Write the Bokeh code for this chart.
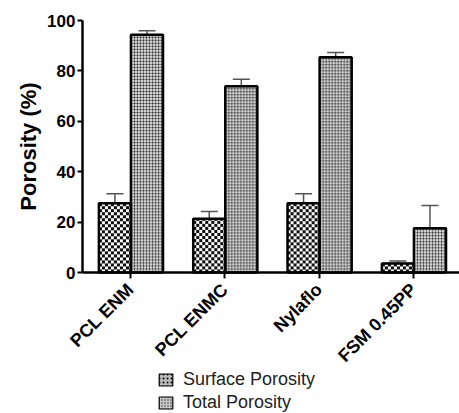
import math
import numpy as np
from bokeh.plotting import figure
from bokeh.models import (ColumnDataSource, Whisker, TeeHead, Legend, LegendItem,
                          FixedTicker, Range1d, Label)
from bokeh.transform import dodge
from bokeh.embed import file_html
from bokeh.resources import INLINE

categories = ["PCL ENM", "PCL ENMC", "Nylaflo", "FSM 0.45PP"]
surface = [27.5, 21.3, 27.5, 3.6]
surface_err = [3.8, 2.9, 3.8, 1.0]
total = [94.3, 73.9, 85.4, 17.6]
total_err = [1.6, 2.8, 1.9, 9.0]
y_ticks = [0, 20, 40, 60, 80, 100]

FONT = "Liberation Sans"
S_OFF, T_OFF, BW = -0.165, 0.175, 0.34
PX_X, PX_Y = 94.33, 2.52   # screen pixels per data unit (frame fills the figure)

xs = list(range(len(categories)))
src = ColumnDataSource(dict(
    x=xs, surface=surface, total=total,
    s_up=[v + e for v, e in zip(surface, surface_err)],
    t_up=[v + e for v, e in zip(total, total_err)],
))


def to_rgba(rgb):
    h, w, _ = rgb.shape
    a = np.empty((h, w, 4), dtype=np.uint8)
    a[..., :3] = rgb
    a[..., 3] = 255
    return a.view(np.uint32).reshape(h, w)


def tex_surface(w, h):
    r = np.arange(h)[:, None]
    c = np.arange(w)[None, :]
    dark = ((r // 3 + c // 3) % 2) == 0
    g = np.where(dark, 15, 250).astype(np.uint8)
    return to_rgba(np.repeat(g[..., None], 3, axis=2))


def tex_total(w, h):
    r = np.arange(h)[:, None] % 3
    c = np.arange(w)[None, :] % 3
    g = np.full((h, w), 210, dtype=np.uint8)
    g[(r == 0) | (c == 0)] = 130
    g[(r == 0) & (c == 0)] = 40
    return to_rgba(np.repeat(g[..., None], 3, axis=2))


def px_h(v):
    return max(1, int(round(v * PX_Y)))


wpx = int(round(BW * PX_X))
img_src = ColumnDataSource(dict(
    image=[tex_surface(wpx, px_h(v)) for v in surface] + [tex_total(wpx, px_h(v)) for v in total],
    x=[i + S_OFF - BW / 2 for i in xs] + [i + T_OFF - BW / 2 for i in xs],
    y=[0] * (2 * len(xs)),
    dw=[BW] * (2 * len(xs)),
    dh=list(surface) + list(total),
))

# frame fills whole figure; axes pinned at data positions
p = figure(width=459, height=413, output_backend="svg", toolbar_location=None,
           x_range=Range1d(-1.378, 3.488), y_range=Range1d(-55.95, 107.94),
           min_border_left=0, min_border_right=0, min_border_top=0, min_border_bottom=0)
p.outline_line_color = None
p.grid.visible = False
p.background_fill_color = "white"
p.border_fill_color = "white"

# base bars (also used for legend glyphs)
r1 = p.vbar(x=dodge("x", S_OFF, range=p.x_range), top="surface", width=BW, source=src,
            fill_color="#bbbbbb", line_color="black", line_width=1.2,
            hatch_pattern=".", hatch_color="black", hatch_scale=4)
r2 = p.vbar(x=dodge("x", T_OFF, range=p.x_range), top="total", width=BW, source=src,
            fill_color="#c8c8c8", line_color="black", line_width=1.2,
            hatch_pattern=".", hatch_color="#333333", hatch_scale=3)
# checker textures
p.image_rgba(image="image", x="x", y="y", dw="dw", dh="dh", source=img_src)
# outlines
p.vbar(x=dodge("x", S_OFF, range=p.x_range), top="surface", width=BW, source=src,
       fill_alpha=0, line_color="black", line_width=2.5)
p.vbar(x=dodge("x", T_OFF, range=p.x_range), top="total", width=BW, source=src,
       fill_alpha=0, line_color="black", line_width=2.5)

for off, lo, up in [(S_OFF, "surface", "s_up"), (T_OFF, "total", "t_up")]:
    w = Whisker(base=dodge("x", off, range=p.x_range), lower=lo, upper=up, source=src,
                line_color="#555555", line_width=1.5,
                upper_head=TeeHead(size=17, line_color="#555555", line_width=1.5),
                lower_head=None)
    p.add_layout(w)

# axes
p.xaxis.fixed_location = 0
p.xaxis.bounds = (-0.509, 3.488)
p.xaxis.ticker = FixedTicker(ticks=xs)
p.xaxis.major_label_overrides = {i: c for i, c in enumerate(categories)}
p.xaxis.major_label_orientation = math.pi / 4
p.xaxis.major_label_text_font = FONT
p.xaxis.major_label_text_font_style = "bold"
p.xaxis.major_label_text_font_size = "18px"
p.xaxis.major_label_text_color = "black"
p.xaxis.major_label_standoff = 8
p.xaxis.minor_tick_line_color = None
p.xaxis.major_tick_out = 6
p.xaxis.major_tick_in = 0
p.xaxis.axis_line_width = 2.5
p.xaxis.major_tick_line_width = 2
p.xaxis.axis_line_color = "black"

p.yaxis.fixed_location = -0.509
p.yaxis.bounds = (0, 100)
p.yaxis.ticker = FixedTicker(ticks=y_ticks)
p.yaxis.major_label_text_font = FONT
p.yaxis.major_label_text_font_style = "bold"
p.yaxis.major_label_text_font_size = "17px"
p.yaxis.major_label_text_color = "black"
p.yaxis.major_label_standoff = 2
p.yaxis.minor_tick_line_color = None
p.yaxis.major_tick_out = 5
p.yaxis.major_tick_in = 0
p.yaxis.axis_line_width = 2.5
p.yaxis.major_tick_line_width = 2
p.yaxis.axis_line_color = "black"

p.add_layout(Label(x=-1.085, y=50, text="Porosity (%)", angle=math.pi / 2,
                   text_align="center", text_baseline="middle",
                   text_font=FONT, text_font_style="bold", text_font_size="22px",
                   text_color="black"))

legend = Legend(items=[LegendItem(label="Surface Porosity", renderers=[r1]),
                       LegendItem(label="Total Porosity", renderers=[r2])],
                location=(157, 0), orientation="vertical",
                label_text_font=FONT, label_text_font_size="18px", label_text_color="#222222",
                glyph_width=17, glyph_height=15, spacing=2, padding=0, margin=0,
                label_standoff=9, border_line_color=None, background_fill_alpha=0,
                label_height=18)
p.add_layout(legend, "center")

open("out.html", "w").write(file_html(p, INLINE))
